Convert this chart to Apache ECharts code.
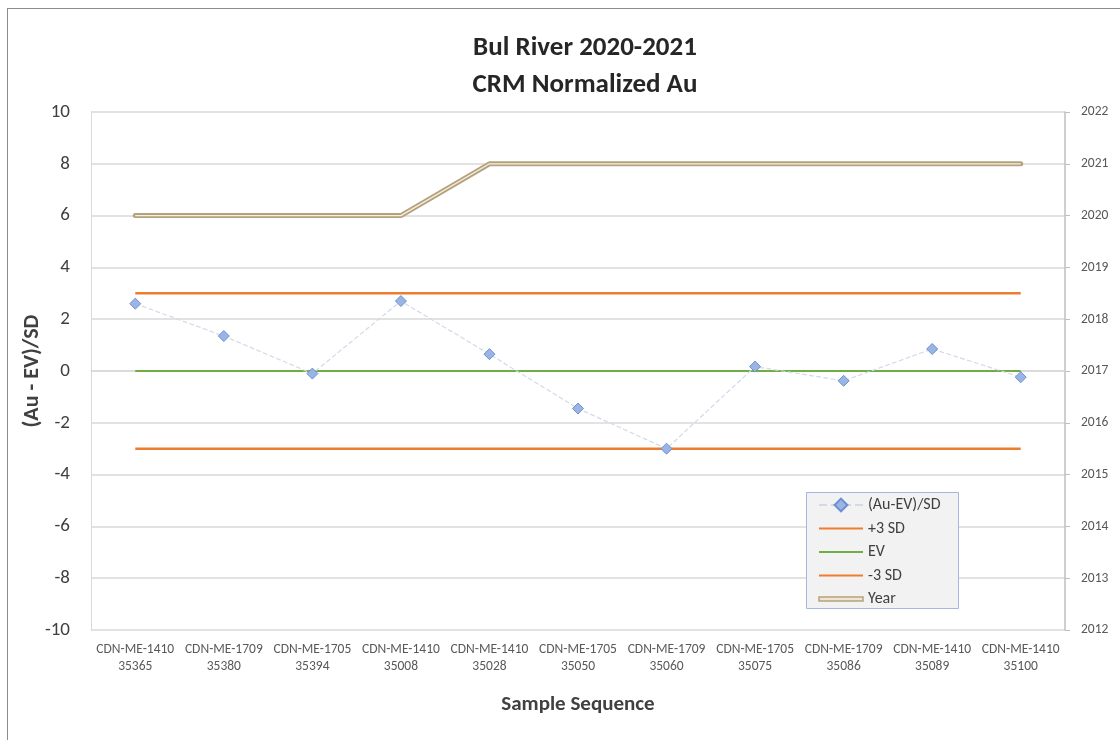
<!DOCTYPE html>
<html><head><meta charset="utf-8">
<script src="https://cdn.jsdelivr.net/npm/echarts@6/dist/echarts.min.js"></script>
<style>html,body{margin:0;padding:0;background:#fff;overflow:hidden}#c{width:1120px;height:740px}
#frame{position:absolute;left:7px;top:8px;width:1130px;height:760px;border:1px solid #8c8c8c;pointer-events:none}</style>
</head><body><div id="c"></div><div id="frame"></div>
<script>
const categories = ["CDN-ME-1410\n35365","CDN-ME-1709\n35380","CDN-ME-1705\n35394","CDN-ME-1410\n35008","CDN-ME-1410\n35028","CDN-ME-1705\n35050","CDN-ME-1709\n35060","CDN-ME-1705\n35075","CDN-ME-1709\n35086","CDN-ME-1410\n35089","CDN-ME-1410\n35100"];
const normalized = [2.6, 1.35, -0.1, 2.7, 0.65, -1.45, -3.0, 0.17, -0.38, 0.85, -0.24];
const plus3 = [3,3,3,3,3,3,3,3,3,3,3];
const ev = [0,0,0,0,0,0,0,0,0,0,0];
const minus3 = [-3,-3,-3,-3,-3,-3,-3,-3,-3,-3,-3];
const year = [2020,2020,2020,2020,2021,2021,2021,2021,2021,2021,2021];

const chart = echarts.init(document.getElementById('c'));
const font = 'Calibri, Carlito, Lato, "Open Sans", "Liberation Sans", sans-serif';
const lineIcon = 'path://M0,0H44V2H0Z';
chart.setOption({
  animation:false,
  textStyle:{fontFamily:font},
  title:{text:'Bul River 2020-2021\nCRM Normalized Au',left:585,textAlign:'center',top:30,padding:0,
    textStyle:{fontSize:27,fontWeight:'bold',color:'#262626',lineHeight:37,fontFamily:font}},
  grid:{left:91,right:55,top:112,bottom:110},
  graphic:[{type:'rect',z:10,shape:{x:806.5,y:492.5,width:152,height:116},
    style:{fill:'#f2f2f2',stroke:'#a3b8de',lineWidth:1}}],
  legend:{orient:'vertical',left:806,top:492,padding:[5,10,3,12],itemGap:7.5,z:11,
    itemWidth:44,itemHeight:16,itemTextGap:5,
    textStyle:{fontSize:16,color:'#404040',fontFamily:font},
    data:[
      {name:'(Au-EV)/SD'},
      {name:'+3 SD',icon:lineIcon},
      {name:'EV',icon:lineIcon},
      {name:'-3 SD',icon:lineIcon},
      {name:'Year',icon:'path://M0,0H44V4H0Z',itemStyle:{color:'#eee6d4',borderColor:'#b5a27c',borderWidth:1.5}}
    ]},
  xAxis:{type:'category',data:categories,boundaryGap:true,
    axisLine:{lineStyle:{color:'#d9d9d9',width:1.5}},axisTick:{show:false},
    axisLabel:{color:'#595959',fontSize:13.5,interval:0,lineHeight:17,margin:11},
    name:'Sample Sequence',nameLocation:'middle',nameGap:64,nameMoveOverlap:false,
    nameTextStyle:{fontSize:21,fontWeight:'bold',color:'#404040'}},
  yAxis:[{type:'value',min:-10,max:10,interval:2,
    axisLine:{show:true,lineStyle:{color:'#d9d9d9'}},axisTick:{show:false},
    axisLabel:{color:'#404040',fontSize:19,margin:21},
    splitLine:{lineStyle:{color:'#d9d9d9',width:1.5}},
    name:'(Au - EV)/SD',nameLocation:'middle',nameGap:48,nameRotate:90,nameMoveOverlap:false,
    nameTextStyle:{fontSize:22,fontWeight:'bold',color:'#404040'}},
   {type:'value',min:2012,max:2022,interval:1,position:'right',
    axisLine:{show:true,lineStyle:{color:'#bfbfbf',width:1.5}},
    axisTick:{show:true,length:5,lineStyle:{color:'#bfbfbf'}},splitLine:{show:false},
    axisLabel:{color:'#595959',fontSize:13.5,margin:16,formatter:v=>String(v)}}],
  series:[
    {name:'(Au-EV)/SD',type:'line',data:normalized,symbol:'diamond',symbolSize:11,
     lineStyle:{color:'#d3d9e8',width:1.2,type:'dashed'},
     itemStyle:{color:'#9bb4e6',borderColor:'#6d8fd0',borderWidth:1},z:5},
    {name:'+3 SD',type:'line',data:plus3,symbol:'none',lineStyle:{color:'#ed7d31',width:2.5},itemStyle:{color:'#ed7d31'}},
    {name:'EV',type:'line',data:ev,symbol:'none',lineStyle:{color:'#70ad47',width:2},itemStyle:{color:'#70ad47'}},
    {name:'-3 SD',type:'line',data:minus3,symbol:'none',lineStyle:{color:'#ed7d31',width:2.5},itemStyle:{color:'#ed7d31'}},
    {name:'Year',type:'line',yAxisIndex:1,data:year,symbol:'none',
     lineStyle:{color:'#b5a27c',width:5,cap:'round'},itemStyle:{color:'#b5a27c'}},
    {name:'YearInner',type:'line',yAxisIndex:1,data:year,symbol:'none',silent:true,
     lineStyle:{color:'#f4efe3',width:1.3},z:3}
  ]
});
</script></body></html>
